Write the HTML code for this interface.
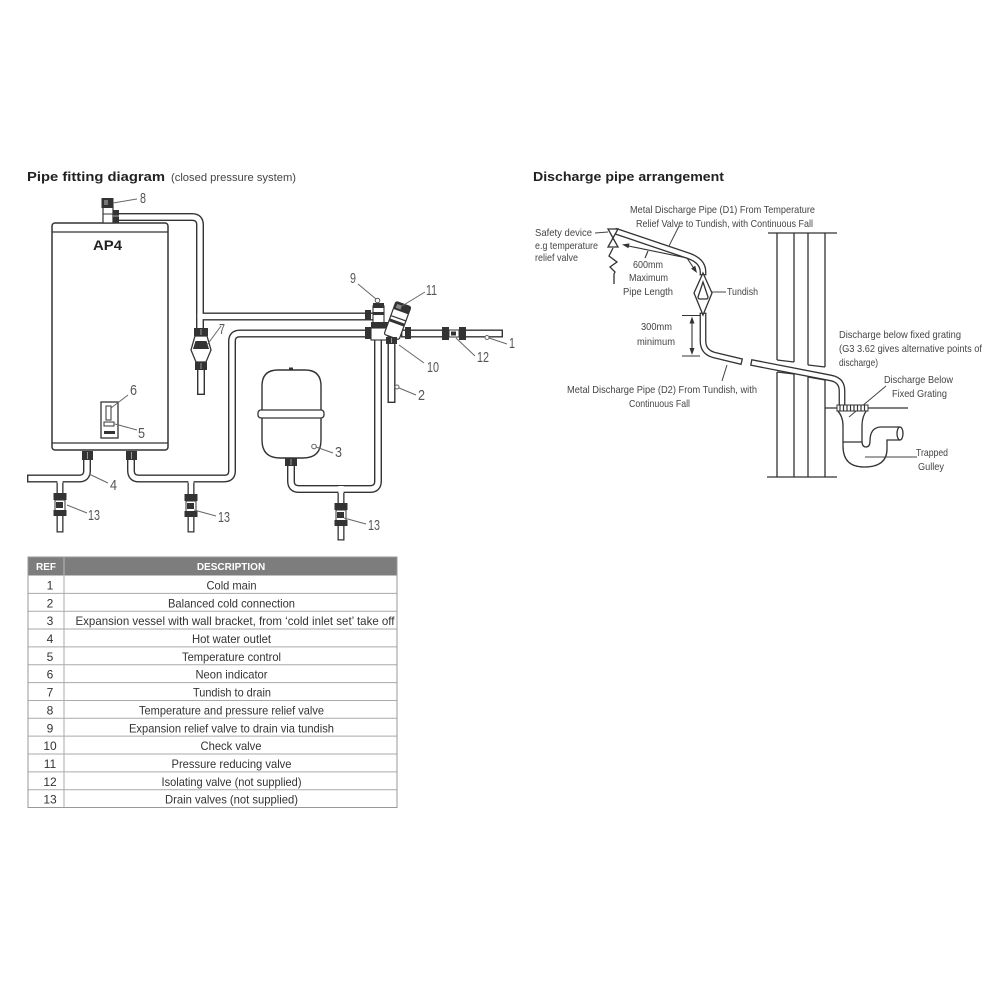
<!DOCTYPE html>
<html><head><meta charset="utf-8"><style>
html,body{margin:0;padding:0;background:#fff;}
svg{display:block;}
text{font-family:"Liberation Sans",Arial,sans-serif;}
</style></head><body>
<svg width="1000" height="1000" viewBox="0 0 1000 1000" xmlns="http://www.w3.org/2000/svg">
<rect width="1000" height="1000" fill="#fff"/>

<!-- Titles -->
<text x="27" y="181" font-size="13" font-weight="bold" fill="#222" textLength="138" lengthAdjust="spacingAndGlyphs">Pipe fitting diagram</text>
<text x="171" y="181" font-size="11" fill="#444" textLength="125" lengthAdjust="spacingAndGlyphs">(closed pressure system)</text>
<text x="533" y="181" font-size="13" font-weight="bold" fill="#222" textLength="191" lengthAdjust="spacingAndGlyphs">Discharge pipe arrangement</text>

<!-- ============ LEFT DIAGRAM ============ -->
<!-- Heater -->
<rect x="52" y="223" width="116" height="227" rx="3" fill="#fff" stroke="#333" stroke-width="1.5"/>
<line x1="52" y1="232" x2="168" y2="232" stroke="#333" stroke-width="1.3"/>
<line x1="52" y1="443" x2="168" y2="443" stroke="#333" stroke-width="1.3"/>
<text x="93" y="250" font-size="14" font-weight="bold" fill="#222" textLength="29" lengthAdjust="spacingAndGlyphs">AP4</text>
<!-- control panel -->
<rect x="101" y="402" width="17" height="36" fill="#fff" stroke="#333" stroke-width="1.3"/>
<rect x="106" y="406" width="5" height="14" fill="#fff" stroke="#333" stroke-width="1"/>
<rect x="104" y="422" width="10" height="4" fill="#fff" stroke="#333" stroke-width="1"/>
<rect x="104" y="431" width="11" height="3" fill="#333"/>

<!-- Expansion vessel -->
<path d="M262,386 Q262,370 278,370 H305 Q321,370 321,386 V440 Q321,458 303,458 H280 Q262,458 262,440 Z" fill="#fff" stroke="#333" stroke-width="1.4"/>
<rect x="258" y="410" width="66" height="8" rx="3" fill="#fff" stroke="#333" stroke-width="1.3"/>
<rect x="289" y="367.5" width="4" height="3" fill="#333"/>

<!-- Pipes (outer dark) -->
<g fill="none" stroke="#333" stroke-width="8" stroke-linecap="square" stroke-linejoin="round">
  <path d="M118,217 H192 Q200,217 200,225 V330"/>
  <path d="M200,316.5 H370"/>
  <path d="M370,333.5 H240 Q232,333.5 232,341.5 V471 Q232,478.5 224,478.5 H139 Q131,478.5 131,470.5 V456"/>
  <path d="M31,478.5 H79 Q87,478.5 87,470.5 V456"/>
  <path d="M378,333.5 V481 Q378,489 370,489 H299 Q291,489 291,481 V462"/>
  <path d="M405,333.5 H499"/>
  <path d="M391.5,340 V399"/>
  <path d="M201,368 V391"/>
</g>
<g fill="none" stroke="#333" stroke-width="7" stroke-linecap="square">
  <path d="M60,478.5 V529"/>
  <path d="M191,478.5 V529"/>
  <path d="M341,489 V537"/>
</g>
<!-- Pipes (inner white) -->
<g fill="none" stroke="#fff" stroke-width="5.2" stroke-linecap="square" stroke-linejoin="round">
  <path d="M118,217 H192 Q200,217 200,225 V330"/>
  <path d="M200,316.5 H370"/>
  <path d="M370,333.5 H240 Q232,333.5 232,341.5 V471 Q232,478.5 224,478.5 H139 Q131,478.5 131,470.5 V456"/>
  <path d="M31,478.5 H79 Q87,478.5 87,470.5 V456"/>
  <path d="M378,333.5 V481 Q378,489 370,489 H299 Q291,489 291,481 V462"/>
  <path d="M405,333.5 H499"/>
  <path d="M391.5,340 V399"/>
  <path d="M201,368 V391"/>
</g>
<g fill="none" stroke="#fff" stroke-width="4.4" stroke-linecap="square">
  <path d="M60,478.5 V529"/>
  <path d="M191,478.5 V529"/>
  <path d="M341,489 V537"/>
</g>
<g fill="none" stroke="#fff" stroke-width="5.2">
  <path d="M60,476 V483"/>
  <path d="M191,476 V483"/>
  <path d="M341,486 V493"/>
</g>

<!-- Valve 8 -->
<rect x="103" y="206" width="10" height="17" fill="#fff" stroke="#333" stroke-width="1.2"/>
<line x1="103" y1="214" x2="113" y2="214" stroke="#333"/>
<rect x="101.5" y="198" width="12" height="10" fill="#333"/>
<rect x="104" y="200" width="4" height="5" fill="#777"/>
<rect x="113" y="210" width="6" height="13" fill="#333"/>
<line x1="113" y1="216" x2="119" y2="216" stroke="#aaa" stroke-width="1"/>

<!-- heater bottom nuts -->
<rect x="82" y="451" width="11" height="9" fill="#333"/>
<line x1="87.5" y1="452" x2="87.5" y2="459" stroke="#999"/>
<rect x="126" y="451" width="11" height="9" fill="#333"/>
<line x1="131.5" y1="452" x2="131.5" y2="459" stroke="#999"/>
<rect x="285" y="458" width="12" height="8" fill="#333"/>
<line x1="291" y1="459" x2="291" y2="465" stroke="#999"/>

<!-- Tundish 7 -->
<rect x="194" y="328" width="14" height="8" fill="#333"/>
<line x1="201" y1="329" x2="201" y2="335" stroke="#999"/>
<path d="M195,336 H207 L211,350 L206,362 H196 L191,350 Z" fill="#fff" stroke="#333" stroke-width="1.3"/>
<path d="M195.5,341 H206.5 L209,349 H193 Z" fill="#333"/>
<rect x="195" y="362" width="12" height="8" fill="#333"/>
<line x1="201" y1="363" x2="201" y2="369" stroke="#999"/>

<!-- Drain valves -->
<g transform="translate(60,493)">
  <rect x="-6.5" y="0" width="13" height="7" fill="#333"/>
  <rect x="-5" y="7" width="10" height="11" fill="#fff" stroke="#333" stroke-width="1"/>
  <rect x="-4" y="9" width="7" height="6" fill="#333"/>
  <rect x="-6.5" y="17" width="13" height="6" fill="#333"/>
</g>
<g transform="translate(191,494)">
  <rect x="-6.5" y="0" width="13" height="7" fill="#333"/>
  <rect x="-5" y="7" width="10" height="11" fill="#fff" stroke="#333" stroke-width="1"/>
  <rect x="-4" y="9" width="7" height="6" fill="#333"/>
  <rect x="-6.5" y="17" width="13" height="6" fill="#333"/>
</g>
<g transform="translate(341,503)">
  <rect x="-6.5" y="0" width="13" height="7" fill="#333"/>
  <rect x="-5" y="7" width="10" height="11" fill="#fff" stroke="#333" stroke-width="1"/>
  <rect x="-4" y="9" width="7" height="6" fill="#333"/>
  <rect x="-6.5" y="17" width="13" height="6" fill="#333"/>
</g>

<!-- Valve cluster -->
<rect x="365" y="310" width="6" height="10" fill="#333"/>
<rect x="365" y="327" width="6" height="12" fill="#333"/>
<rect x="373" y="306" width="11" height="18" fill="#fff" stroke="#333" stroke-width="1.1"/>
<rect x="373" y="303" width="11" height="5" fill="#333"/>
<rect x="373" y="312" width="11" height="3" fill="#333"/>
<circle cx="377.5" cy="300.5" r="2.3" fill="#fff" stroke="#555" stroke-width="1"/>
<rect x="371" y="322" width="17" height="6" fill="#333"/>
<rect x="371" y="328" width="17" height="12" fill="#fff" stroke="#333" stroke-width="1.1"/>
<g transform="rotate(20 397 322)">
  <rect x="389" y="303" width="16" height="35" rx="2" fill="#fff" stroke="#333" stroke-width="1.2"/>
  <rect x="389" y="303" width="16" height="8" fill="#333"/>
  <rect x="391" y="305" width="5" height="4" fill="#888"/>
  <line x1="389" y1="318" x2="405" y2="318" stroke="#333" stroke-width="1.2"/>
  <rect x="389" y="321" width="16" height="3" fill="#333"/>
</g>
<rect x="405" y="327" width="6" height="12" fill="#333"/>
<rect x="386" y="337" width="11" height="7" fill="#333"/>
<line x1="391.5" y1="338" x2="391.5" y2="343" stroke="#999"/>

<!-- Isolating valve 12 -->
<rect x="442" y="327" width="7" height="13" fill="#333"/>
<rect x="459" y="327" width="7" height="13" fill="#333"/>
<rect x="449" y="330" width="10" height="7" fill="#fff" stroke="#333" stroke-width="1"/>
<rect x="451" y="331.5" width="5" height="4" fill="#333"/>

<!-- Leaders left -->
<g stroke="#666" stroke-width="1" fill="none">
  <line x1="113" y1="203" x2="137" y2="199"/>
  <line x1="207" y1="345" x2="221" y2="326"/>
  <line x1="358" y1="284" x2="376" y2="299"/>
  <line x1="425" y1="292" x2="402" y2="306"/>
  <line x1="424" y1="363" x2="399" y2="345"/>
  <line x1="475" y1="356" x2="456" y2="338"/>
  <line x1="507" y1="344" x2="489" y2="338"/>
  <line x1="416" y1="395" x2="399" y2="388"/>
  <line x1="333" y1="453" x2="316" y2="447"/>
  <line x1="108" y1="483" x2="89" y2="474"/>
  <line x1="87" y1="513" x2="67" y2="505"/>
  <line x1="216" y1="516" x2="194" y2="510"/>
  <line x1="366" y1="524" x2="344" y2="518"/>
  <line x1="128" y1="395" x2="111" y2="408"/>
  <line x1="137" y1="430" x2="115" y2="424"/>
  <circle cx="487" cy="337.5" r="2" fill="#fff"/>
  <circle cx="397" cy="387" r="2" fill="#fff"/>
  <circle cx="314" cy="446.5" r="2.3" fill="#fff"/>
</g>
<!-- Number labels -->
<g font-size="15" fill="#555">
  <text x="140" y="203" textLength="6" lengthAdjust="spacingAndGlyphs">8</text>
  <text x="219" y="334" textLength="6" lengthAdjust="spacingAndGlyphs">7</text>
  <text x="350" y="283" textLength="6" lengthAdjust="spacingAndGlyphs">9</text>
  <text x="426" y="295" textLength="11" lengthAdjust="spacingAndGlyphs">11</text>
  <text x="509" y="348" textLength="6" lengthAdjust="spacingAndGlyphs">1</text>
  <text x="477" y="362" textLength="12" lengthAdjust="spacingAndGlyphs">12</text>
  <text x="427" y="372" textLength="12" lengthAdjust="spacingAndGlyphs">10</text>
  <text x="418" y="400" textLength="7" lengthAdjust="spacingAndGlyphs">2</text>
  <text x="335" y="457" textLength="7" lengthAdjust="spacingAndGlyphs">3</text>
  <text x="110" y="490" textLength="7" lengthAdjust="spacingAndGlyphs">4</text>
  <text x="130" y="395" textLength="7" lengthAdjust="spacingAndGlyphs">6</text>
  <text x="138" y="438" textLength="7" lengthAdjust="spacingAndGlyphs">5</text>
  <text x="88" y="520" textLength="12" lengthAdjust="spacingAndGlyphs">13</text>
  <text x="218" y="522" textLength="12" lengthAdjust="spacingAndGlyphs">13</text>
  <text x="368" y="530" textLength="12" lengthAdjust="spacingAndGlyphs">13</text>
</g>

<!-- ============ TABLE ============ -->
<rect x="28" y="557" width="369" height="18.5" fill="#7d7d7d"/>
<line x1="64" y1="557" x2="64" y2="575.5" stroke="#bbb" stroke-width="1"/>
<text x="46" y="570" font-size="10" font-weight="bold" fill="#fff" text-anchor="middle">REF</text>
<text x="231" y="570" font-size="10" font-weight="bold" fill="#fff" text-anchor="middle">DESCRIPTION</text>
<g stroke="#aaa" stroke-width="1">
  <line x1="28" y1="593.35" x2="397" y2="593.35"/>
  <line x1="28" y1="611.2" x2="397" y2="611.2"/>
  <line x1="28" y1="629.05" x2="397" y2="629.05"/>
  <line x1="28" y1="646.9" x2="397" y2="646.9"/>
  <line x1="28" y1="664.75" x2="397" y2="664.75"/>
  <line x1="28" y1="682.6" x2="397" y2="682.6"/>
  <line x1="28" y1="700.45" x2="397" y2="700.45"/>
  <line x1="28" y1="718.3" x2="397" y2="718.3"/>
  <line x1="28" y1="736.15" x2="397" y2="736.15"/>
  <line x1="28" y1="754" x2="397" y2="754"/>
  <line x1="28" y1="771.85" x2="397" y2="771.85"/>
  <line x1="28" y1="789.7" x2="397" y2="789.7"/>
  <line x1="64" y1="575.5" x2="64" y2="807.5"/>
</g>
<rect x="28" y="557" width="369" height="250.5" fill="none" stroke="#999" stroke-width="1"/>
<g font-size="12" fill="#333" text-anchor="middle">
  <text x="50" y="589.5">1</text>
  <text x="50" y="607.3">2</text>
  <text x="50" y="625.2">3</text>
  <text x="50" y="643">4</text>
  <text x="50" y="660.9">5</text>
  <text x="50" y="678.7">6</text>
  <text x="50" y="696.6">7</text>
  <text x="50" y="714.4">8</text>
  <text x="50" y="732.3">9</text>
  <text x="50" y="750.1">10</text>
  <text x="50" y="768">11</text>
  <text x="50" y="785.8">12</text>
  <text x="50" y="803.7">13</text>
  <text x="231.5" y="589.5" textLength="50" lengthAdjust="spacingAndGlyphs">Cold main</text>
  <text x="231.5" y="607.3" textLength="127" lengthAdjust="spacingAndGlyphs">Balanced cold connection</text>
  <text x="235" y="625.2" textLength="319" lengthAdjust="spacingAndGlyphs">Expansion vessel with wall bracket, from ‘cold inlet set’ take off</text>
  <text x="231.5" y="643" textLength="79" lengthAdjust="spacingAndGlyphs">Hot water outlet</text>
  <text x="231.5" y="660.9" textLength="99" lengthAdjust="spacingAndGlyphs">Temperature control</text>
  <text x="231.5" y="678.7" textLength="72" lengthAdjust="spacingAndGlyphs">Neon indicator</text>
  <text x="232" y="696.6" textLength="78" lengthAdjust="spacingAndGlyphs">Tundish to drain</text>
  <text x="231.5" y="714.4" textLength="185" lengthAdjust="spacingAndGlyphs">Temperature and pressure relief valve</text>
  <text x="231.5" y="732.3" textLength="205" lengthAdjust="spacingAndGlyphs">Expansion relief valve to drain via tundish</text>
  <text x="231" y="750.1" textLength="61" lengthAdjust="spacingAndGlyphs">Check valve</text>
  <text x="231.5" y="768" textLength="120" lengthAdjust="spacingAndGlyphs">Pressure reducing valve</text>
  <text x="231.5" y="785.8" textLength="140" lengthAdjust="spacingAndGlyphs">Isolating valve (not supplied)</text>
  <text x="231.5" y="803.7" textLength="133" lengthAdjust="spacingAndGlyphs">Drain valves (not supplied)</text>
</g>

<!-- ============ RIGHT DIAGRAM ============ -->
<!-- Wall -->
<g stroke="#333" stroke-width="1.3" fill="none">
  <line x1="768" y1="233" x2="837" y2="233"/>
  <line x1="767" y1="477" x2="837" y2="477"/>
  <line x1="777" y1="233" x2="777" y2="360"/>
  <line x1="777" y1="372" x2="777" y2="477"/>
  <line x1="794" y1="233" x2="794" y2="362"/>
  <line x1="794" y1="374" x2="794" y2="477"/>
  <line x1="808" y1="233" x2="808" y2="365"/>
  <line x1="808" y1="377" x2="808" y2="477"/>
  <line x1="825" y1="233" x2="825" y2="367"/>
  <line x1="825" y1="380" x2="825" y2="477"/>
  <line x1="777" y1="360" x2="794" y2="362"/>
  <line x1="808" y1="365" x2="825" y2="367"/>
  <line x1="777" y1="372" x2="794" y2="374"/>
  <line x1="808" y1="377" x2="825" y2="380"/>
  <line x1="825" y1="408" x2="908" y2="408"/>
</g>

<!-- discharge pipes -->
<g fill="none" stroke="#333" stroke-width="6.8" stroke-linecap="square" stroke-linejoin="round">
  <path d="M618,232 L689,256 Q703,261 703,272"/>
  <path d="M703,316 V341 Q703,352 714,355 L739,361"/>
  <path d="M754,363 L831,378 Q842,380 842,391 V406"/>
</g>
<g fill="none" stroke="#fff" stroke-width="4.2" stroke-linecap="square" stroke-linejoin="round">
  <path d="M618,232 L689,256 Q703,261 703,272"/>
  <path d="M703,316 V341 Q703,352 714,355 L739,361"/>
  <path d="M754,363 L831,378 Q842,380 842,391 V406"/>
</g>

<!-- Safety valve -->
<g stroke="#333" stroke-width="1.3" fill="#fff">
  <path d="M608,229 H618 L613,238 Z"/>
  <path d="M608,247 H618 L613,238 Z"/>
</g>
<polyline points="613,248 609,256 617,262 610,267 615,272 614,274 614,284" fill="none" stroke="#333" stroke-width="1.3"/>

<!-- Tundish -->
<path d="M703,273 L712,293 L703,315 L694,293 Z" fill="#fff" stroke="#333" stroke-width="1.3"/>
<path d="M703,282 L708,297 Q708,299 706,299 H700 Q698,299 698,297 Z" fill="#fff" stroke="#333" stroke-width="1.3"/>

<!-- dimensions -->
<g stroke="#333" stroke-width="1.1" fill="none">
  <line x1="626" y1="245.5" x2="687" y2="258"/>
  <line x1="687" y1="258" x2="695" y2="270"/>
  <line x1="648" y1="251" x2="645" y2="258"/>
  <line x1="682" y1="315.5" x2="700" y2="315.5"/>
  <line x1="682" y1="356" x2="700" y2="356"/>
  <line x1="692" y1="319" x2="692" y2="352"/>
</g>
<g fill="#333">
  <polygon points="622,244.5 629.5,243.4 628.5,248.3"/>
  <polygon points="697,273 695.3,265.8 691.1,268.6"/>
  <polygon points="692,316.5 689.5,323.5 694.5,323.5"/>
  <polygon points="692,355 689.5,348 694.5,348"/>
</g>

<!-- leaders right -->
<g stroke="#444" stroke-width="1" fill="none">
  <line x1="595" y1="233" x2="608" y2="232"/>
  <line x1="679" y1="226" x2="669" y2="246"/>
  <line x1="712" y1="292" x2="726" y2="292"/>
  <line x1="722" y1="381" x2="727" y2="365"/>
  <line x1="886" y1="386" x2="849" y2="417"/>
  <line x1="865" y1="457" x2="917" y2="457"/>
</g>

<!-- Gully -->
<g stroke="#333" stroke-width="1.3" fill="none">
  <path d="M837,410 Q843,416 843,426 V446 Q843,467 864,467 Q887,467 887,449 V440 H900"/>
  <path d="M867,410 Q862,416 862,426 V441 Q862,447 866,447 Q870,447 870,441 Q870,428 880,427 H900"/>
  <line x1="843" y1="442" x2="862" y2="442"/>
  <ellipse cx="900" cy="433.5" rx="3" ry="6.5" fill="#fff"/>
</g>
<rect x="837" y="405" width="31" height="6" fill="#fff" stroke="#333" stroke-width="1"/>
<g stroke="#333" stroke-width="1.2">
  <line x1="840" y1="405" x2="840" y2="411"/>
  <line x1="843.5" y1="405" x2="843.5" y2="411"/>
  <line x1="847" y1="405" x2="847" y2="411"/>
  <line x1="850.5" y1="405" x2="850.5" y2="411"/>
  <line x1="854" y1="405" x2="854" y2="411"/>
  <line x1="857.5" y1="405" x2="857.5" y2="411"/>
  <line x1="861" y1="405" x2="861" y2="411"/>
  <line x1="864.5" y1="405" x2="864.5" y2="411"/>
</g>

<!-- Right texts -->
<g font-size="10.5" fill="#444">
  <text x="630" y="213" textLength="185" lengthAdjust="spacingAndGlyphs">Metal Discharge Pipe (D1) From Temperature</text>
  <text x="636" y="227" textLength="177" lengthAdjust="spacingAndGlyphs">Relief Valve to Tundish, with Continuous Fall</text>
  <text x="535" y="236" textLength="57" lengthAdjust="spacingAndGlyphs">Safety device</text>
  <text x="535" y="249" textLength="63" lengthAdjust="spacingAndGlyphs">e.g temperature</text>
  <text x="535" y="261" textLength="43" lengthAdjust="spacingAndGlyphs">relief valve</text>
  <text x="633" y="268" textLength="30" lengthAdjust="spacingAndGlyphs">600mm</text>
  <text x="629" y="281" textLength="39" lengthAdjust="spacingAndGlyphs">Maximum</text>
  <text x="623" y="295" textLength="50" lengthAdjust="spacingAndGlyphs">Pipe Length</text>
  <text x="727" y="295" textLength="31" lengthAdjust="spacingAndGlyphs">Tundish</text>
  <text x="641" y="330" textLength="31" lengthAdjust="spacingAndGlyphs">300mm</text>
  <text x="637" y="345" textLength="38" lengthAdjust="spacingAndGlyphs">minimum</text>
  <text x="567" y="393" textLength="190" lengthAdjust="spacingAndGlyphs">Metal Discharge Pipe (D2) From Tundish, with</text>
  <text x="629" y="407" textLength="61" lengthAdjust="spacingAndGlyphs">Continuous Fall</text>
  <text x="839" y="338" textLength="122" lengthAdjust="spacingAndGlyphs">Discharge below fixed grating</text>
  <text x="839" y="352" textLength="143" lengthAdjust="spacingAndGlyphs">(G3 3.62 gives alternative points of</text>
  <text x="839" y="366" textLength="39" lengthAdjust="spacingAndGlyphs">discharge)</text>
  <text x="884" y="383" textLength="69" lengthAdjust="spacingAndGlyphs">Discharge Below</text>
  <text x="892" y="397" textLength="55" lengthAdjust="spacingAndGlyphs">Fixed Grating</text>
  <text x="916" y="456" textLength="32" lengthAdjust="spacingAndGlyphs">Trapped</text>
  <text x="918" y="470" textLength="26" lengthAdjust="spacingAndGlyphs">Gulley</text>
</g>
</svg>
</body></html>
